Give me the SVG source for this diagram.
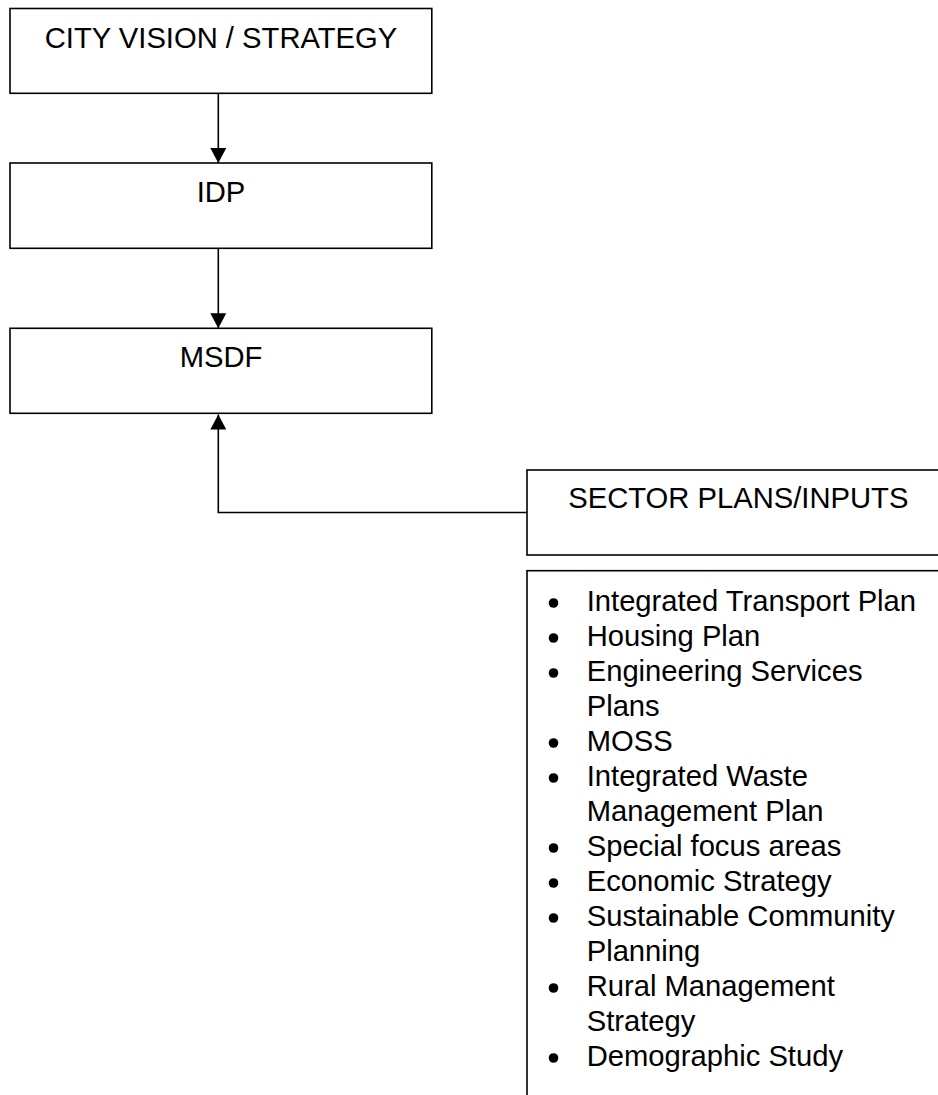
<svg xmlns="http://www.w3.org/2000/svg" width="938" height="1095" viewBox="0 0 938 1095">
  <style>
    .box { fill: #ffffff; stroke: #000000; stroke-width: 1.6; }
    .lbl { font-family: "Liberation Sans", Arial, sans-serif; font-size: 29.2px; fill: #000000; }
    .mid { text-anchor: middle; }
    .conn { fill: none; stroke: #000000; stroke-width: 1.6; }
    .dot { fill: #000000; }
  </style>
  <defs>
    <marker id="arrow" viewBox="0 0 15 16" refX="15" refY="8" markerWidth="15" markerHeight="16" markerUnits="userSpaceOnUse" orient="auto">
      <path d="M0,0 L15,8 L0,16 Z" fill="#000000"/>
    </marker>
  </defs>

  <rect width="938" height="1095" fill="#ffffff"/>

  <!-- connectors -->
  <g id="connectors">
    <path class="conn" d="M218.3,93.3 V163" marker-end="url(#arrow)"/>
    <path class="conn" d="M218.3,248.3 V328.3" marker-end="url(#arrow)"/>
    <path class="conn" d="M527,512.5 H218.3 V414.5" marker-end="url(#arrow)"/>
  </g>

  <g id="city-vision">
    <rect class="box" x="10" y="8.5" width="421.8" height="84.8"/>
    <text class="lbl mid" x="221" y="47.5">CITY VISION / STRATEGY</text>
  </g>

  <g id="idp">
    <rect class="box" x="10" y="163" width="421.8" height="85.3"/>
    <text class="lbl mid" x="221" y="201.8">IDP</text>
  </g>

  <g id="msdf">
    <rect class="box" x="10" y="328.3" width="421.8" height="85"/>
    <text class="lbl mid" x="221" y="366.8">MSDF</text>
  </g>

  <g id="sector-plans">
    <rect class="box" x="527" y="470" width="430" height="85"/>
    <text class="lbl" x="568.3" y="507.8">SECTOR PLANS/INPUTS</text>
  </g>

  <g id="sector-list">
    <rect class="box" x="527" y="570.7" width="430" height="560"/>
    <!-- bullets -->
    <g class="dot">
      <circle cx="553.5" cy="603" r="4.8"/>
      <circle cx="553.5" cy="638" r="4.8"/>
      <circle cx="553.5" cy="673" r="4.8"/>
      <circle cx="553.5" cy="743" r="4.8"/>
      <circle cx="553.5" cy="778" r="4.8"/>
      <circle cx="553.5" cy="848" r="4.8"/>
      <circle cx="553.5" cy="883" r="4.8"/>
      <circle cx="553.5" cy="918" r="4.8"/>
      <circle cx="553.5" cy="988" r="4.8"/>
      <circle cx="553.5" cy="1058" r="4.8"/>
    </g>
    <text class="lbl" x="586.7" y="611">Integrated Transport Plan</text>
    <text class="lbl" x="586.7" y="646">Housing Plan</text>
    <text class="lbl" x="586.7" y="681">Engineering Services</text>
    <text class="lbl" x="586.7" y="716">Plans</text>
    <text class="lbl" x="586.7" y="751">MOSS</text>
    <text class="lbl" x="586.7" y="786">Integrated Waste</text>
    <text class="lbl" x="586.7" y="821">Management Plan</text>
    <text class="lbl" x="586.7" y="856">Special focus areas</text>
    <text class="lbl" x="586.7" y="891">Economic Strategy</text>
    <text class="lbl" x="586.7" y="926">Sustainable Community</text>
    <text class="lbl" x="586.7" y="961">Planning</text>
    <text class="lbl" x="586.7" y="996">Rural Management</text>
    <text class="lbl" x="586.7" y="1031">Strategy</text>
    <text class="lbl" x="586.7" y="1066">Demographic Study</text>
  </g>
</svg>
